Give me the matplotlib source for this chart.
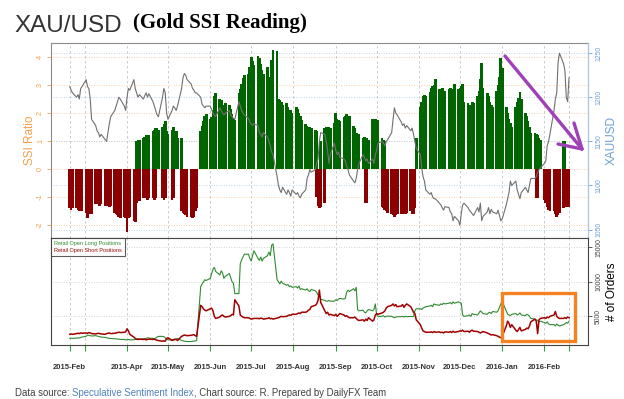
import matplotlib
matplotlib.use("Agg")
import matplotlib.pyplot as plt
import matplotlib.dates as mdates
import matplotlib.transforms as mtransforms
from matplotlib.lines import Line2D
from matplotlib.patches import Rectangle
import pandas as pd

plt.rcParams['font.family'] = ['Liberation Sans', 'DejaVu Sans']

# trading days, one row per week (first week starts on a Wednesday)
days = pd.bdate_range("2015-02-18", "2016-02-19")

ssi_long = [
    0, 0, 0,
    0, 0, 0, 0, 0,  0, 0, 0, 0, 0,  0, 0, 0, 0, 0,  0, 0, 0, 0, 0,
    0, 0, 0, 0, 0,  0, 0, 0, 0, 0,
    0, 0, 1.0, 1.05, 1.05,  1.1, 1.15, 1.2, 1.15, 1.2,  1.35, 1.4, 1.45, 1.45, 1.4,
    1.5, 1.6, 1.7, 1.35, 1.25,  1.4, 1.5, 1.3, 1.35, 1.1,  1.1, 0, 0, 0, 0,
    0, 0, 0, 0, 0,  1.35, 1.55, 1.7, 1.9, 1.95,  1.8, 1.85, 2.1, 2.6, 2.7,
    2.5, 2.45, 2.3, 2.25, 2.35,  2.3, 2.15, 1.95, 1.8, 1.75,  2.7, 2.85, 3.05, 3.25, 3.35,
    3.4, 3.65, 4.0, 3.85, 3.7,  4.05, 3.95, 3.75, 3.55, 3.4,  3.65, 3.3, 3.0, 3.9, 4.25,
    4.2, 2.5, 2.45, 2.4, 2.3,  2.35, 2.2, 2.05, 2.1, 2.0,  2.2, 2.15, 2.0, 1.9, 1.75,
    1.6, 1.55, 1.5, 1.5, 1.45,  1.4, 1.35, 0, 0, 1.0,  1.45, 1.5, 1.45, 1.5, 1.45,
    1.65, 2.0, 1.8, 1.75, 1.7,  1.85, 1.9, 1.95, 1.85, 1.9,  1.55, 1.45, 1.3, 1.2, 1.25,
    1.1, 1.15, 1.05, 1.1, 1.05,  1.8, 1.75, 1.8, 1.7, 1.75,  1.1, 1.05, 1.0, 0, 0,
    0, 0, 0, 0, 0,  0, 0, 0, 0, 0,  0, 0, 0, 0, 1.1,
    2.2, 2.4, 2.6, 2.65, 2.6,  2.75, 2.9, 2.95, 3.0, 3.2,  2.85, 2.8, 2.9, 2.75, 2.8,
    2.85, 2.9, 2.8, 2.85, 3.05,  2.85, 2.9, 2.95, 3.05, 2.4,  2.35, 2.3, 2.2, 2.4, 2.35,
    2.6, 2.8, 3.2, 3.8, 2.9,  2.7, 2.6, 2.4, 2.3, 2.2,  2.8, 3.0, 3.3, 3.95, 3.6,
    2.2, 2.0, 1.8, 1.65, 1.5,  2.2, 2.4, 2.55, 2.75, 2.5,  2.0, 1.9, 1.7, 1.5, 1.3,
    1.3, 1.25, 1.2, 1.1, 1.05,  0, 0, 0, 0, 0,  0, 0, 0, 0, 0,
    1.0, 1.0, 0, 0, 0,
]

ssi_short = [
    -1.4, -1.45, -1.4,
    -1.4, -1.45, -1.5, -1.45, -1.5,  -1.55, -1.75, -1.6, -1.55, -1.6,
    -1.25, -1.2, -1.25, -1.3, -1.25,  -1.3, -1.25, -1.3, -1.35, -1.3,
    -1.55, -1.6, -1.65, -1.7, -1.75,  -1.7, -1.75, -2.25, -1.75, -1.7,
    -1.85, -1.9, -1.2, -1.15, -1.15,  -1.05, -1.0, -1.05, -1.1, -1.05,  -1.05, -1.1, -1.05, 0, 0,
    -1.05, -1.1, -1.05, 0, 0,  -1.1, -1.05, 0, 0, 0,  -1.5, -1.55, -1.6, -1.65, -1.7,
    -1.7, -1.75, -1.7, -1.5, -1.4,  0, 0, 0, 0, 0,  0, 0, 0, 0, 0,
    0, 0, 0, 0, 0,  0, 0, 0, 0, 0,  0, 0, 0, 0, 0,
    0, 0, 0, 0, 0,  0, 0, 0, 0, 0,  0, 0, 0, 0, 0,
    0, 0, 0, 0, 0,  0, 0, 0, 0, 0,  0, 0, 0, 0, 0,
    0, 0, 0, 0, 0,  0, -1.0, -1.3, -1.4, -1.35,  -1.2, 0, 0, 0, 0,
    0, 0, 0, 0, 0,  0, 0, 0, 0, 0,  0, 0, 0, 0, 0,
    0, 0, -1.2, -1.2, 0,  0, 0, 0, 0, 0,  -1.35, -1.4, -1.45, -1.5, -1.55,
    -1.6, -1.65, -1.7, -1.65, -1.6,  -1.6, -1.6, -1.55, -1.6, -1.55,  -1.5, -1.6, -1.6, -1.4, 0,
    0, 0, 0, 0, 0,  0, 0, 0, 0, 0,  0, 0, 0, 0, 0,
    0, 0, 0, 0, 0,  0, 0, 0, 0, 0,  0, 0, 0, 0, 0,
    0, 0, 0, 0, 0,  0, 0, 0, 0, 0,  0, 0, 0, 0, 0,
    0, 0, 0, 0, 0,  0, 0, 0, 0, 0,  0, 0, 0, 0, 0,
    0, -1.05, -1.05, 0, 0,  -1.1, -1.2, -1.35, -1.45, -1.5,  -1.5, -1.6, -1.7, -1.65, -1.55,
    -1.4, -1.3, -1.35, -1.3, -1.35,
]

gold = [
    1212, 1208, 1205,
    1200, 1203, 1198, 1210, 1212,  1220, 1212, 1210, 1198, 1175,  1168, 1162, 1160, 1155, 1158,
    1152, 1150, 1160, 1170, 1178,  1185, 1190, 1195, 1200, 1198,  1190, 1185, 1200, 1210, 1208,
    1220, 1210, 1205, 1200, 1203,  1198, 1202, 1205, 1200, 1204,  1195, 1190, 1185, 1180, 1178,
    1200, 1210, 1205, 1182, 1175,  1185, 1190, 1188, 1185, 1190,  1210, 1222, 1227, 1225, 1220,
    1215, 1210, 1208, 1205, 1205,  1200, 1192, 1190, 1188, 1190,  1190, 1186, 1182, 1180, 1178,
    1188, 1185, 1182, 1180, 1182,  1185, 1180, 1178, 1176, 1175,  1195, 1190, 1185, 1182, 1180,
    1176, 1172, 1170, 1168, 1170,  1168, 1160, 1158, 1155, 1160,  1155, 1150, 1145, 1138, 1135,
    1110, 1100, 1095, 1092, 1098,  1090, 1095, 1092, 1088, 1095,  1090, 1092, 1088, 1086, 1090,
    1095, 1108, 1112, 1118, 1115,  1118, 1125, 1130, 1150, 1160,  1158, 1150, 1140, 1125, 1135,
    1148, 1140, 1135, 1138, 1132,  1130, 1128, 1122, 1118, 1112,  1105, 1103, 1108, 1118, 1125,
    1135, 1132, 1128, 1130, 1125,  1130, 1125, 1135, 1140, 1148,  1150, 1148, 1145, 1150, 1152,
    1160, 1175, 1188, 1182, 1180,  1172, 1168, 1170, 1165, 1168,  1162, 1165, 1158, 1150, 1142,
    1135, 1120, 1110, 1105, 1095,  1090, 1092, 1087, 1085, 1085,  1080, 1078, 1075, 1072, 1076,
    1075, 1070, 1068, 1060, 1065,  1060, 1055, 1068, 1078, 1080,  1075, 1072, 1070, 1068, 1066,
    1075, 1070, 1080, 1060, 1065,  1070, 1075, 1068, 1073, 1070,  1068, 1072, 1066, 1060, 1062,
    1078, 1085, 1092, 1105, 1100,  1105, 1095, 1090, 1085, 1092,  1098, 1095, 1092, 1100, 1108,
    1108, 1110, 1115, 1118, 1120,  1125, 1128, 1145, 1150, 1158,  1185, 1198, 1205, 1240, 1250,
    1238, 1230, 1200, 1195, 1222,
]

long_orders = [
    1800, 1850, 1800,
    1850, 1900, 1850, 1950, 2000,  2100, 2300, 2250, 2200, 2150,  2200, 2150, 2100, 2050, 2000,
    1950, 1900, 1850, 1800, 1800,  1750, 1750, 1700, 1700, 1650,  1650, 1600, 1600, 1650, 1600,
    1600, 1650, 1700, 1750, 1700,  1750, 1700, 1800, 1900, 1850,  1800, 1750, 1850, 2000, 2100,
    2100, 2050, 1900, 1700, 1600,  1600, 1550, 1600, 1700, 1800,  1500, 1450, 1400, 1380, 1350,
    1350, 1380, 1400, 1450, 1500,  9300, 9700, 10000, 10300, 10200,  10500, 11200, 11800, 12100, 11500,
    11000, 11600, 11300, 10500, 10800,  11200, 10600, 10000, 9800, 8300,  8300, 12600, 13200, 13600, 14000,
    14000, 13400, 13000, 13800, 14500,  13400, 13100, 13600, 13000, 13400,  13800, 14300, 13800, 15300, 15500,
    10300, 10000, 9700, 10100, 9800,  9500, 9600, 9300, 9400, 9200,  9300, 9100, 9400, 8900, 9000,
    8800, 9000, 8700, 8600, 8900,  8700, 8500, 8100, 8000, 7500,  7300, 7200, 7200, 7300, 7200,
    7200, 7400, 7300, 7500, 7600,  7500, 7600, 8500, 8800, 8600,  9000, 8700, 9200, 6000, 5800,
    5900, 5600, 5500, 5800, 6000,  5800, 6000, 6800, 5200, 5000,  5000, 5100, 4900, 5000, 5050,
    5000, 4900, 4800, 4900, 4950,  4950, 5000, 4900, 5000, 4950,  5000, 4950, 5000, 5800, 6100,
    6100, 6000, 6200, 6300, 6400,  6500, 6600, 6400, 6800, 6700,  6600, 6800, 6700, 6900, 6800,
    6900, 7000, 6800, 7100, 6900,  7100, 7000, 6900, 5200, 5000,  5100, 5200, 5000, 5400, 5300,
    5200, 5500, 5800, 5600, 5400,  5300, 5500, 5600, 5400, 5700,  5600, 5800, 6300, 6800, 7200,
    5800, 5300, 5200, 5100, 5300,  5400, 5200, 5300, 5500, 5200,  5100, 5300, 5200, 5000, 4700,
    4600, 4500, 4400, 4200, 4300,  4100, 4000, 4200, 3900, 3800,  3800, 3600, 3900, 3700, 3600,
    3800, 3900, 4100, 4000, 4300,
]

short_orders = [
    2400, 2450, 2400,
    2500, 2550, 2500, 2600, 2550,  2600, 2550, 2650, 2600, 2500,  2450, 2500, 2550, 2500, 2450,
    2400, 2500, 2550, 2600, 2500,  2550, 2600, 2650, 2700, 2650,  2700, 2750, 3200, 2900, 2400,
    2000, 1800, 1700, 1650, 1700,  1650, 1700, 1600, 1650, 1700,  1650, 1700, 1600, 1550, 1500,
    1400, 1450, 1400, 1800, 1900,  1500, 1600, 1700, 1650, 1500,  2100, 2200, 2300, 2250, 2200,
    2250, 2300, 2350, 2200, 2100,  6600, 6400, 6100, 5900, 5800,  6100, 6200, 5800, 5000, 4700,
    4900, 5100, 5200, 5000, 4900,  5000, 5100, 5300, 5200, 7400,  6500, 5200, 5000, 4900, 4800,
    4800, 4700, 4600, 4650, 4700,  4700, 4650, 4750, 4700, 4600,  4700, 4800, 4650, 4700, 4600,
    4750, 4800, 4900, 5000, 4950,  5000, 5100, 5200, 5150, 5300,  5300, 5400, 5500, 5400, 5600,
    5600, 5700, 5900, 6000, 6400,  6600, 6800, 7300, 8800, 7000,  5800, 5400, 5600, 5200, 5300,
    5100, 5300, 5000, 5200, 5400,  5200, 5000, 5100, 4900, 4800,  4800, 4900, 4700, 4500, 4400,
    4500, 4300, 4600, 4400, 4800,  4300, 4500, 5200, 5400, 5300,  5500, 5600, 5800, 6200, 6400,
    6600, 6800, 6500, 6700, 6400,  6500, 6700, 6300, 6600, 6800,  6400, 6000, 5600, 5400, 4500,
    3800, 3300, 2900, 2800, 2700,  2700, 2750, 2650, 2800, 2700,  2750, 2650, 2700, 2600, 2750,
    2700, 2800, 2650, 2850, 2700,  2800, 2900, 2850, 3000, 2800,  2850, 2700, 2900, 3000, 2850,
    2800, 2700, 2600, 2700, 2800,  2600, 2500, 2400, 2300, 2350,  2200, 2100, 2000, 1900, 2100,
    3600, 4300, 4000, 3400, 3800,  3000, 2800, 3100, 3400, 2900,  3100, 3300, 3200, 3600, 4200,
    4600, 4300, 2500, 4500, 4700,  4800, 4700, 4900, 4800, 5000,  5200, 5700, 5000, 4800, 4700,
    4700, 4800, 4700, 4900, 4800,
]

tick_dates = ["2015-02-18", "2015-03-01", "2015-04-01", "2015-05-01", "2015-06-01",
              "2015-07-01", "2015-08-01", "2015-09-01", "2015-10-01", "2015-11-01",
              "2015-12-01", "2016-01-01", "2016-02-01", "2016-02-19"]
tick_labels = ["2015-Feb", "", "2015-Apr", "2015-May", "2015-Jun", "2015-Jul", "2015-Aug",
               "2015-Sep", "2015-Oct", "2015-Nov", "2015-Dec", "2016-Jan", "2016-Feb", ""]

x = mdates.date2num(days)
xt = mdates.date2num(pd.to_datetime(tick_dates))

ORANGE = '#f5a04a'
BLUE = '#6fa0d8'

fig = plt.figure(figsize=(6.24, 3.99), dpi=100)
ax1 = fig.add_axes([51 / 624, 1 - 238 / 399, 537 / 624, 195 / 399])
ax2 = ax1.twinx()
ax3 = fig.add_axes([51 / 624, 1 - 345 / 399, 537 / 624, 107 / 399])

# top panel: SSI bars + gold price
for v in range(-2, 5):
    ax1.axhline(v, color='#f8c48e', lw=0.6, ls=(0, (1, 2)), zorder=0)
gtrans = mtransforms.blended_transform_factory(ax1.transAxes, ax2.transData)
for g in [1050, 1100, 1150, 1200, 1250]:
    ax1.add_artist(Line2D([0, 1], [g, g], transform=gtrans, color='#a9c6e4',
                          lw=0.6, ls=(0, (1, 2)), zorder=0))
for t in xt:
    ax1.axvline(t, color='#c4c4c4', lw=0.6, ls=(0, (3, 3)), zorder=0)
    ax3.axvline(t, color='#c4c4c4', lw=0.6, ls=(0, (3, 3)), zorder=0)

ax1.bar(x, ssi_long, width=2.0, color='#006400', linewidth=0, zorder=2)
ax1.bar(x, ssi_short, width=2.0, color='#8b0000', linewidth=0, zorder=2)
ax2.plot(x, gold, color='#707070', lw=0.8)

ax1.set_ylim(-2.46, 4.5)
ax2.set_ylim(1040.5, 1261.5)
ax1.set_xlim(mdates.date2num(pd.Timestamp("2015-02-04 06:00")),
             mdates.date2num(pd.Timestamp("2016-03-03 22:00")))

ax1.set_yticks(range(-2, 5))
ax1.set_yticklabels([str(v) for v in range(-2, 5)], rotation=90, va='center',
                    fontsize=5.2, color=ORANGE)
ax1.tick_params(axis='y', colors=ORANGE, length=3, width=0.6, pad=2)
ax1.tick_params(axis='x', length=0, labelbottom=False)
ax1.set_ylabel("SSI Ratio", color=ORANGE, fontsize=8.5, labelpad=1)

ax2.set_yticks([1050, 1100, 1150, 1200, 1250])
ax2.set_yticklabels(["1050", "1100", "1150", "1200", "1250"], rotation=90, va='center',
                    fontsize=4.9, color=BLUE)
ax2.tick_params(axis='y', colors=BLUE, length=3, width=0.6, pad=2)
ax2.set_ylabel("XAUUSD", color=BLUE, fontsize=8.5, labelpad=3)

for sp in ax1.spines.values():
    sp.set_color('#8c8c8c')
    sp.set_linewidth(0.8)
for name, sp in ax2.spines.items():
    sp.set_visible(name == 'right')
ax2.spines['right'].set_color('#a9c6e4')

# bottom panel: number of orders
for v in [5000, 10000, 15000]:
    ax3.axhline(v, color='#c8c8c8', lw=0.6, ls=(0, (1, 2)), zorder=0)
ax3.plot(x, long_orders, color='#2e8b2e', lw=0.8, label='Retail Open Long Positions')
ax3.plot(x, short_orders, color='#a00000', lw=1.1, label='Retail Open Short Positions')
ax3.set_xlim(ax1.get_xlim())
ax3.set_ylim(850, 16350)
ax3.yaxis.tick_right()
ax3.yaxis.set_label_position('right')
ax3.set_yticks([5000, 10000, 15000])
ax3.set_yticklabels(["5000", "10000", "15000"], rotation=90, va='center',
                    fontsize=4.9, color='#444444')
ax3.tick_params(axis='y', length=3, width=0.6, pad=2, colors='#444444')
ax3.set_ylabel("# of Orders", fontsize=8.5, labelpad=3)
ax3.set_xticks(xt)
ax3.set_xticklabels(tick_labels, fontsize=5.5, fontweight='bold', color='#333333')
ax3.tick_params(axis='x', colors='#3a9a3a', length=4, width=0.8, pad=10)
for lab in ax3.get_xticklabels():
    lab.set_color('#333333')
for sp in ax3.spines.values():
    sp.set_color('#444444')
    sp.set_linewidth(0.8)

leg = ax3.legend(loc='upper left', fontsize=4.0, handlelength=0, handletextpad=0,
                 fancybox=False, edgecolor='#333333', borderaxespad=0,
                 labelcolor='linecolor', borderpad=0.6, labelspacing=0.25)
leg.get_frame().set_linewidth(0.8)

# titles
fig.text(14 / 624, 1 - 32 / 399, "XAU/USD", fontsize=17.5, color='#333333', va='baseline')
fig.text(133 / 624, 1 - 28 / 399, "(Gold SSI Reading)", fontsize=15, fontweight='bold',
         family='Liberation Serif', color='black', va='baseline')

# caption with coloured source name
renderer = fig.canvas.get_renderer()
cx = 15 / 624
for s, c in [("Data source: ", '#404040'), ("Speculative Sentiment Index", '#4f81bd'),
             (", Chart source: R. Prepared by DailyFX Team", '#404040')]:
    t = fig.text(cx, 1 - 395.5 / 399, s, fontsize=6.9, color=c, va='baseline')
    cx = t.get_window_extent(renderer=renderer).x1 / fig.bbox.width

# annotations
fig.add_artist(Rectangle((502 / 624, 1 - 341 / 399), 73 / 624, 48 / 399,
                         transform=fig.transFigure, fill=False,
                         edgecolor='#f58220', linewidth=2.4))
purple = '#a040b8'
for (xa, ya), (xb, yb) in [((505, 56), (582, 149)), ((558, 144), (582, 149)),
                           ((574, 123), (582, 149))]:
    fig.add_artist(Line2D([xa / 624, xb / 624], [1 - ya / 399, 1 - yb / 399],
                          transform=fig.transFigure, color=purple, lw=2.4,
                          solid_capstyle='round'))

fig.savefig("out.png", dpi=100)
